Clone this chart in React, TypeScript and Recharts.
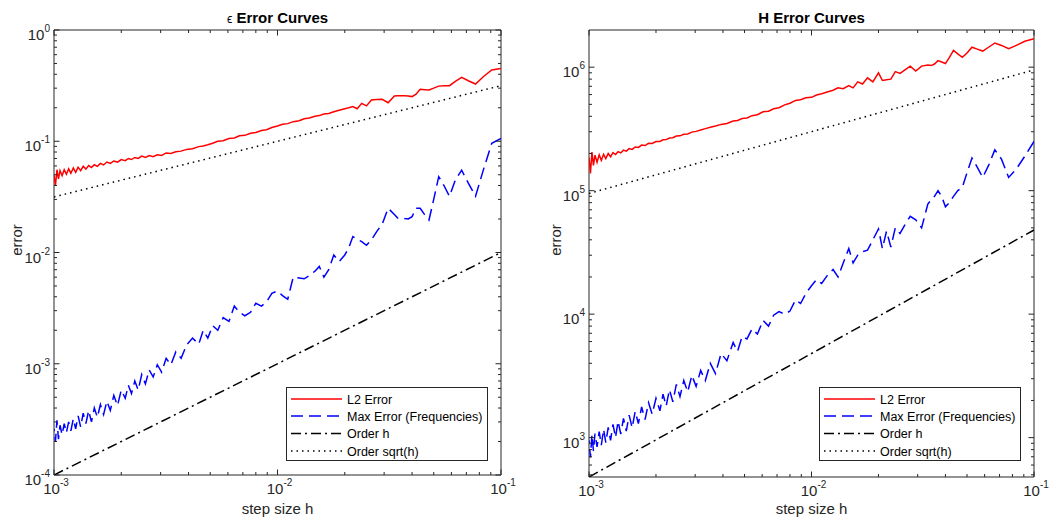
import React from 'react';
import { LineChart, Line, XAxis, YAxis, ReferenceArea, Legend } from 'recharts';

const FONT = '"Liberation Sans", Arial, Helvetica, sans-serif';
const AXIS_COLOR = '#262626';
const TEXT_COLOR = '#262626';

// step sizes h (descending)
const stepSizes = [
  0.1, 0.09091, 0.08333, 0.07692, 0.07143, 0.06667, 0.0625, 0.05882, 0.05556, 0.05263,
  0.05, 0.04762, 0.04545, 0.04348, 0.04167, 0.04, 0.03846, 0.03704, 0.03571, 0.03448,
  0.03333, 0.03125, 0.02941, 0.02778, 0.02632, 0.025, 0.02381, 0.02273, 0.02174, 0.02083,
  0.02, 0.01887, 0.01786, 0.01695, 0.01613, 0.01538, 0.01471, 0.01389, 0.01316, 0.0125,
  0.01176, 0.01111, 0.01053, 0.01, 0.009434, 0.008929, 0.008475, 0.008, 0.007576, 0.007143,
  0.006757, 0.00641, 0.006061, 0.005714, 0.005405, 0.005128, 0.004878, 0.004651, 0.004444, 0.004167,
  0.003922, 0.003704, 0.003509, 0.003333, 0.003175, 0.00303, 0.002899, 0.002778, 0.002667, 0.002564,
  0.002469, 0.002381, 0.002299, 0.002222, 0.002151, 0.002083, 0.002, 0.001923, 0.001852, 0.001786,
  0.001724, 0.001667, 0.001613, 0.001563, 0.001515, 0.001471, 0.001429, 0.001389, 0.001351, 0.001316,
  0.001282, 0.00125, 0.00122, 0.00119, 0.001163, 0.001136, 0.001111, 0.001087, 0.001064, 0.001047,
  0.001031, 0.001015, 0.001,
];

// epsilon panel
const epsL2Error = [
  0.45, 0.437, 0.38, 0.327, 0.35, 0.375, 0.345, 0.316, 0.315, 0.313,
  0.3, 0.289, 0.291, 0.293, 0.265, 0.252, 0.255, 0.257, 0.256, 0.256,
  0.255, 0.222, 0.238, 0.237, 0.235, 0.208, 0.219, 0.196, 0.205, 0.2,
  0.196, 0.19, 0.184, 0.178, 0.176, 0.17, 0.168, 0.162, 0.159, 0.153,
  0.15, 0.144, 0.142, 0.137, 0.133, 0.127, 0.125, 0.12, 0.118, 0.113,
  0.112, 0.107, 0.106, 0.101, 0.1, 0.096, 0.093, 0.0905, 0.0895, 0.0855,
  0.0845, 0.0815, 0.0805, 0.0775, 0.0785, 0.0745, 0.0755, 0.0725, 0.0745, 0.0715,
  0.0735, 0.07, 0.0715, 0.0685, 0.07, 0.067, 0.0685, 0.065, 0.0665, 0.0632,
  0.065, 0.0612, 0.0632, 0.0595, 0.0615, 0.058, 0.0605, 0.0562, 0.0595, 0.0545,
  0.0585, 0.0525, 0.0575, 0.0515, 0.0565, 0.0505, 0.0555, 0.049, 0.0545, 0.046,
  0.0555, 0.04, 0.05,
];
const epsMaxError = [
  0.106, 0.096, 0.055, 0.032, 0.042, 0.055, 0.045, 0.032, 0.04, 0.048,
  0.03, 0.0196, 0.022, 0.025, 0.025, 0.021, 0.02, 0.0202, 0.0205, 0.0204,
  0.022, 0.025, 0.018, 0.0154, 0.013, 0.0116, 0.0125, 0.0132, 0.0139, 0.011,
  0.0095, 0.0083, 0.0095, 0.007, 0.006, 0.0075, 0.0068, 0.0062, 0.0058, 0.0059,
  0.006, 0.0038, 0.0041, 0.0045, 0.0043, 0.0036, 0.0033, 0.0035, 0.0029, 0.0027,
  0.0029, 0.0033, 0.0024, 0.0026, 0.002, 0.0022, 0.0017, 0.002, 0.0015, 0.0017,
  0.00148, 0.00112, 0.00128, 0.00098, 0.00112, 0.00084, 0.00098, 0.00076, 0.00088, 0.00066,
  0.0008, 0.00058, 0.0007, 0.00054, 0.00064, 0.00049, 0.00058, 0.00042, 0.00052, 0.00038,
  0.00046, 0.00035, 0.00043, 0.00033, 0.0004, 0.0003, 0.00038, 0.00029, 0.00036, 0.00027,
  0.00034, 0.00026, 0.00032, 0.00025, 0.0003, 0.00024, 0.00029, 0.00023, 0.00028, 0.00021,
  0.00031, 0.0002, 0.00026,
];

// H panel
const hL2Error = [
  1700000, 1620000, 1500000, 1410000, 1500000, 1570000, 1450000, 1350000, 1400000, 1450000,
  1300000, 1200000, 1280000, 1370000, 1200000, 1070000, 1100000, 1130000, 1060000, 1030000,
  1040000, 1020000, 930000, 1020000, 950000, 890000, 920000, 800000, 790000, 780000,
  900000, 760000, 820000, 730000, 760000, 680000, 710000, 670000, 680000, 650000,
  630000, 610000, 595000, 570000, 565000, 545000, 538000, 510000, 495000, 470000,
  460000, 440000, 435000, 412000, 405000, 388000, 384000, 370000, 366000, 350000,
  344000, 334000, 326000, 318000, 310000, 302000, 298000, 288000, 286000, 278000,
  277000, 268000, 267000, 259000, 258000, 250000, 250000, 241000, 242000, 232000,
  234000, 224000, 226000, 216000, 219000, 209000, 213000, 202000, 207000, 196000,
  203000, 188000, 200000, 182000, 197000, 176000, 195000, 170000, 194000, 160000,
  205000, 138000, 185000,
];
const hMaxError = [
  250000, 190000, 150000, 128000, 180000, 214000, 160000, 128000, 155000, 184000,
  140000, 106000, 100000, 90000, 80000, 74000, 90000, 100000, 90000, 84000,
  78000, 50000, 58000, 62000, 53000, 45000, 50000, 35000, 47000, 34000,
  49000, 40000, 33000, 32000, 30000, 26000, 34000, 26000, 20000, 23000,
  20500, 17700, 19000, 17000, 14700, 12200, 13000, 10600, 10000, 10500,
  9800, 8000, 8900, 6900, 7600, 6300, 6600, 5000, 5900, 4200,
  4800, 3300, 4000, 2900, 3500, 2600, 3200, 2350, 2900, 2150,
  2700, 1950, 2450, 1800, 2250, 1650, 2080, 1550, 1920, 1400,
  1770, 1300, 1630, 1200, 1520, 1130, 1430, 1070, 1360, 1000,
  1280, 950, 1210, 910, 1170, 870, 1120, 840, 1080, 780,
  1060, 690, 950,
];

// reference order lines (end points)
const orderSteps = [0.001, 0.1];
const epsOrderH = [0.0001, 0.01];
const epsOrderSqrt = [0.0316, 0.316];
const hOrderH = [480, 48000];
const hOrderSqrt = [95000, 950000];

// axis ticks
const xTickValues = [
  0.001, 0.002, 0.003, 0.004, 0.005, 0.006, 0.007, 0.008, 0.009,
  0.01, 0.02, 0.03, 0.04, 0.05, 0.06, 0.07, 0.08, 0.09, 0.1,
];
const epsYTicks = [
  0.0001, 0.0002, 0.0003, 0.0004, 0.0005, 0.0006, 0.0007, 0.0008, 0.0009,
  0.001, 0.002, 0.003, 0.004, 0.005, 0.006, 0.007, 0.008, 0.009,
  0.01, 0.02, 0.03, 0.04, 0.05, 0.06, 0.07, 0.08, 0.09,
  0.1, 0.2, 0.3, 0.4, 0.5, 0.6, 0.7, 0.8, 0.9, 1,
];
const hYTicks = [
  500, 600, 700, 800, 900,
  1000, 2000, 3000, 4000, 5000, 6000, 7000, 8000, 9000,
  10000, 20000, 30000, 40000, 50000, 60000, 70000, 80000, 90000,
  100000, 200000, 300000, 400000, 500000, 600000, 700000, 800000, 900000,
  1000000,
];
const epsYDomain = [0.0001, 1];
const hYDomain = [480, 2000000];

const seriesNames = {
  l2: 'L2 Error',
  max: 'Max Error (Frequencies)',
  orderH: 'Order h',
  orderSqrt: 'Order sqrt(h)',
};
const seriesOrder = ['l2', 'max', 'orderH', 'orderSqrt'];
const seriesStyle: Record<string, { stroke: string; dash?: string }> = {
  l2: { stroke: '#ff0000' },
  max: { stroke: '#0000ff', dash: '12 6' },
  orderH: { stroke: '#000000', dash: '10 4 2 4' },
  orderSqrt: { stroke: '#000000', dash: '1.5 4' },
};

const CHART_W = 527;
const CHART_H = 525;

function isMajor(v: number) {
  const l = Math.log10(v);
  return Math.abs(l - Math.round(l)) < 1e-6;
}

function XTick(props: any) {
  const { x, y, payload, plotTop } = props;
  const v = payload.value;
  const major = isMajor(v);
  const len = major ? 5.5 : 3;
  return (
    <g>
      <line x1={x} x2={x} y1={y} y2={y - len} stroke={AXIS_COLOR} strokeWidth={1} />
      <line x1={x} x2={x} y1={plotTop} y2={plotTop + len} stroke={AXIS_COLOR} strokeWidth={1} />
      {major && (
        <text x={x + 2} y={y + 19} textAnchor="middle" fontSize={15} fontFamily={FONT} fill={TEXT_COLOR}>
          <tspan>10</tspan>
          <tspan dy={-8} fontSize={10}>{String(Math.round(Math.log10(v)))}</tspan>
        </text>
      )}
    </g>
  );
}

function YTick(props: any) {
  const { x, y, payload, plotRight } = props;
  const v = payload.value;
  const major = isMajor(v);
  const len = major ? 5.5 : 3;
  return (
    <g>
      <line x1={x} x2={x + len} y1={y} y2={y} stroke={AXIS_COLOR} strokeWidth={1} />
      <line x1={plotRight} x2={plotRight - len} y1={y} y2={y} stroke={AXIS_COLOR} strokeWidth={1} />
      {major && (
        <text x={x - 4} y={y + 10} textAnchor="end" fontSize={15} fontFamily={FONT} fill={TEXT_COLOR}>
          <tspan>10</tspan>
          <tspan dy={-8} fontSize={10}>{String(Math.round(Math.log10(v)))}</tspan>
        </text>
      )}
    </g>
  );
}

function LegendBox(props: any) {
  const payload: any[] = props.payload || [];
  const keys = seriesOrder.filter((k) => payload.some((p) => p.dataKey === k));
  const rowsY = [12, 29, 46.5, 64];
  return (
    <svg width={202} height={74} style={{ display: 'block' }}>
      <rect x={0.5} y={0.5} width={201} height={73} fill="#ffffff" stroke={AXIS_COLOR} strokeWidth={1} />
      {keys.map((k, i) => {
        const st = seriesStyle[k];
        const cy = rowsY[i];
        return (
          <g key={k}>
            <line x1={5} x2={56} y1={cy} y2={cy} stroke={st.stroke} strokeWidth={1.5} strokeDasharray={st.dash} />
            <text x={61} y={cy + 4.5} fontSize={12.5} fontFamily={FONT} fill="#000">
              {(seriesNames as any)[k]}
            </text>
          </g>
        );
      })}
    </svg>
  );
}

type PanelProps = {
  title: React.ReactNode;
  l2: number[];
  max: number[];
  orderH: number[];
  orderSqrt: number[];
  yDomain: number[];
  yTicks: number[];
  plot: { top: number; right: number; bottom: number; left: number };
  legendLeft: number;
  legendTop: number;
  yLabelX: number;
};

function ErrorPanel(p: PanelProps) {
  const rows = stepSizes.map((h, i) => ({ h, l2: p.l2[i], max: p.max[i] }));
  const orderRows = orderSteps.map((h, i) => ({ h, orderH: p.orderH[i], orderSqrt: p.orderSqrt[i] }));
  const plotTop = p.plot.top;
  const plotLeft = p.plot.left;
  const plotRight = CHART_W - p.plot.right;
  const cx = (plotLeft + plotRight) / 2;
  // axis sizes are 1px; margins are reduced by 1 so that the plot area matches p.plot
  const margin = { top: p.plot.top, right: p.plot.right, bottom: p.plot.bottom - 1, left: p.plot.left - 1 };
  return (
    <LineChart width={CHART_W} height={CHART_H} data={rows} margin={margin}>
      <XAxis
        dataKey="h"
        type="number"
        scale="log"
        domain={[0.001, 0.1]}
        allowDataOverflow
        ticks={xTickValues}
        interval={0}
        tick={<XTick plotTop={plotTop} />}
        tickLine={false}
        axisLine={false}
        tickSize={0}
        tickMargin={0}
        height={1}
      />
      <YAxis
        type="number"
        scale="log"
        domain={p.yDomain}
        allowDataOverflow
        ticks={p.yTicks}
        interval={0}
        tick={<YTick plotRight={plotRight} />}
        tickLine={false}
        axisLine={false}
        tickSize={0}
        tickMargin={0}
        width={1}
      />
      <ReferenceArea
        x1={0.001}
        x2={0.1}
        y1={p.yDomain[0]}
        y2={p.yDomain[1]}
        fill="none"
        fillOpacity={0}
        stroke={AXIS_COLOR}
        strokeWidth={1}
      />
      <Line dataKey="l2" name={seriesNames.l2} stroke={seriesStyle.l2.stroke} strokeWidth={1.5} dot={false} activeDot={false} isAnimationActive={false} />
      <Line dataKey="max" name={seriesNames.max} stroke={seriesStyle.max.stroke} strokeDasharray={seriesStyle.max.dash} strokeWidth={1.5} dot={false} activeDot={false} isAnimationActive={false} />
      <Line data={orderRows} dataKey="orderH" name={seriesNames.orderH} stroke={seriesStyle.orderH.stroke} strokeDasharray={seriesStyle.orderH.dash} strokeWidth={1.5} dot={false} activeDot={false} isAnimationActive={false} />
      <Line data={orderRows} dataKey="orderSqrt" name={seriesNames.orderSqrt} stroke={seriesStyle.orderSqrt.stroke} strokeDasharray={seriesStyle.orderSqrt.dash} strokeWidth={1.5} dot={false} activeDot={false} isAnimationActive={false} />
      <Legend
        layout="vertical"
        align="center"
        verticalAlign="middle"
        content={(lp: any) => <LegendBox {...lp} />}
        wrapperStyle={{ position: 'absolute', left: p.legendLeft, top: p.legendTop, width: 202, height: 74 }}
      />
      <text x={cx} y={23} textAnchor="middle" fontSize={15} fontWeight="bold" fontFamily={FONT} fill="#000">
        {p.title}
      </text>
      <text x={cx} y={514} textAnchor="middle" fontSize={15} fontFamily={FONT} fill={TEXT_COLOR}>
        step size h
      </text>
      <text
        x={p.yLabelX}
        y={240}
        textAnchor="middle"
        fontSize={15}
        fontFamily={FONT}
        fill={TEXT_COLOR}
        transform={`rotate(-90 ${p.yLabelX} 240)`}
      >
        error
      </text>
    </LineChart>
  );
}

export default function App() {
  return (
    <div style={{ position: 'absolute', left: 0, top: 0, width: 1054, height: 525, background: '#fff', display: 'flex' }}>
      <ErrorPanel
        title={
          <>
            <tspan fontWeight="normal" fontSize={12}>ϵ</tspan>
            <tspan> Error Curves</tspan>
          </>
        }
        l2={epsL2Error}
        max={epsMaxError}
        orderH={epsOrderH}
        orderSqrt={epsOrderSqrt}
        yDomain={epsYDomain}
        yTicks={epsYTicks}
        plot={{ top: 30, right: 26, bottom: 50, left: 54 }}
        legendLeft={286}
        legendTop={387}
        yLabelX={21.5}
      />
      <ErrorPanel
        title="H Error Curves"
        l2={hL2Error}
        max={hMaxError}
        orderH={hOrderH}
        orderSqrt={hOrderSqrt}
        yDomain={hYDomain}
        yTicks={hYTicks}
        plot={{ top: 30, right: 20, bottom: 48, left: 62 }}
        legendLeft={292}
        legendTop={387}
        yLabelX={34}
      />
    </div>
  );
}
